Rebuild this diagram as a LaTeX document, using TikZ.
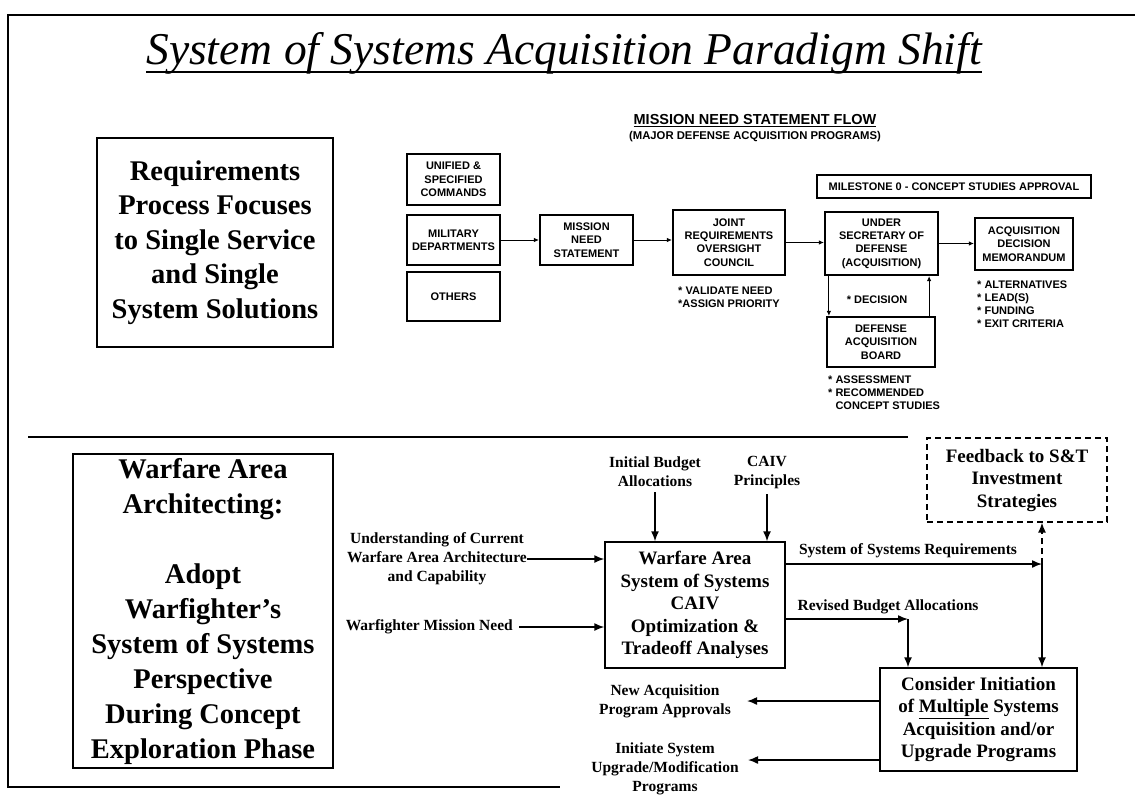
\documentclass[tikz,border=0pt]{standalone}
\usepackage{fontspec}
\setmainfont{Liberation Serif}
\newfontfamily\hv{Liberation Sans}
\usetikzlibrary{arrows.meta,calc}
\begin{document}
\begin{tikzpicture}[x=1pt,y=-1pt,
  bigbox/.style={draw,line width=1.6pt,align=center,inner sep=0pt,font=\bfseries\fontsize{28.5}{34.5}\selectfont},
  medbox/.style={draw,line width=1.4pt,align=center,inner sep=0pt,font=\bfseries\fontsize{19}{22.5}\selectfont},
  lbl/.style={align=center,inner sep=0pt,font=\bfseries\fontsize{15.5}{19}\selectfont},
  flowbox/.style={draw,line width=2.2pt,align=center,inner sep=0pt,font=\hv\bfseries\fontsize{11}{13.3}\selectfont},
  flowtxt/.style={align=left,inner sep=0pt,font=\hv\bfseries\fontsize{11}{13}\selectfont},
  farrow/.style={-{Latex[length=5pt,width=4.5pt]},line width=0.9pt},
  barrow/.style={-{Latex[length=10pt,width=8pt]},line width=1.5pt},
  frame/.style={line width=1.2pt}]
\useasboundingbox (0,0) rectangle (1135,804);
% frame (top, left, partial bottom as in the scan)
\coordinate (ftr) at (1135,15);
\coordinate (ftl) at (8,15);
\coordinate (fbl) at (8,787);
\coordinate (fbr) at (560,787);
\draw[frame] (ftr) -- (ftl) -- (fbl) -- (fbr);
% title
\node[inner sep=0pt,anchor=base,font=\itshape\fontsize{45.5}{50}\selectfont] (title) at (564,64) {System of Systems Acquisition Paradigm Shift};
\draw[line width=1.2pt] ([yshift=-8pt]title.base west) -- ([yshift=-8pt]title.base east);
% separator
\draw[line width=2.6pt] (28,437) -- (908,437);
% left boxes
\node[bigbox,minimum width=236pt,minimum height=209pt] (req) at (215,242.5) {Requirements\\Process Focuses\\to Single Service\\and Single\\System Solutions};
\node[bigbox,minimum width=260pt,minimum height=314pt,font=\bfseries\fontsize{28.5}{35}\selectfont] (waa) at (203,611) {Warfare Area\\Architecting:\\[35pt]Adopt\\Warfighter's\\System of Systems\\Perspective\\During Concept\\Exploration Phase};
% upper flow
\node[inner sep=0pt,font=\hv\bfseries\fontsize{14.5}{16}\selectfont] (mnsf) at (755,121) {\underline{MISSION NEED STATEMENT FLOW}};
\node[inner sep=0pt,font=\hv\bfseries\fontsize{11.3}{13}\selectfont] (mdap) at (755,137) {(MAJOR DEFENSE ACQUISITION PROGRAMS)};
\node[flowbox,minimum width=93pt,minimum height=51pt] (uni) at (453.5,179.5) {UNIFIED \&\\SPECIFIED\\COMMANDS};
\node[flowbox,minimum width=93pt,minimum height=50pt] (mil) at (453.5,240) {MILITARY\\DEPARTMENTS};
\node[flowbox,minimum width=93pt,minimum height=49pt] (oth) at (453.5,296.5) {OTHERS};
\node[flowbox,minimum width=93pt,minimum height=50pt] (mns) at (586.5,240) {MISSION\\NEED\\STATEMENT};
\node[flowbox,minimum width=112pt,minimum height=65pt] (jroc) at (729,242.5) {JOINT\\REQUIREMENTS\\OVERSIGHT\\COUNCIL};
\node[flowbox,minimum width=113pt,minimum height=63pt] (usd) at (881.5,243.5) {UNDER\\SECRETARY OF\\DEFENSE\\(ACQUISITION)};
\node[flowbox,minimum width=98pt,minimum height=52pt] (adm) at (1024,244) {ACQUISITION\\DECISION\\MEMORANDUM};
\node[flowbox,minimum width=274pt,minimum height=23pt] (ms0) at (954,186.5) {MILESTONE 0 - CONCEPT STUDIES APPROVAL};
\node[flowbox,minimum width=108pt,minimum height=50pt] (dab) at (881,342) {DEFENSE\\ACQUISITION\\BOARD};
\draw[farrow] (mil.east) -- (mil.east -| mns.west);
\draw[farrow] (mns.east) -- (mns.east -| jroc.west);
\draw[farrow] (jroc.east) -- (jroc.east -| usd.west);
\draw[farrow] (usd.east) -- (usd.east -| adm.west);
\draw[farrow] ([xshift=5pt]usd.south west) -- ([xshift=5pt]usd.south west |- dab.north);
\draw[farrow] ([xshift=-7pt]dab.north east) -- ([xshift=-7pt]dab.north east |- usd.south);
\node[flowtxt,anchor=north west] (jnote) at (678,287) {* VALIDATE NEED\\*ASSIGN PRIORITY};
\node[flowtxt] (dec) at (877,300) {* DECISION};
\node[flowtxt,anchor=north west] (dnote) at (828,376) {* ASSESSMENT\\* RECOMMENDED\\\hphantom{* }CONCEPT STUDIES};
\node[flowtxt,anchor=north west] (anote) at (977,281) {* ALTERNATIVES\\* LEAD(S)\\* FUNDING\\* EXIT CRITERIA};
% lower flow
\node[lbl] (ib) at (655,472) {Initial Budget\\Allocations};
\node[lbl] (caiv) at (767,473) {CAIV\\Principles};
\node[medbox,minimum width=180pt,minimum height=126pt] (wa) at (695,605) {Warfare Area\\System of Systems\\CAIV\\Optimization \&\\Tradeoff Analyses};
\draw[barrow,shorten <=5pt] (ib.south) -- (ib.south |- wa.north);
\draw[barrow,shorten <=5pt] (caiv.south) -- (caiv.south |- wa.north);
\node[lbl] (und) at (437,559) {Understanding of Current\\Warfare Area Architecture\\and Capability};
\draw[barrow] (und.east) -- (und.east -| wa.west);
\node[lbl,anchor=east] (wmn) at (513,627) {Warfighter Mission Need};
\draw[barrow,shorten <=6pt] (wmn.east) -- (wmn.east -| wa.west);
\node[medbox,dashed,line width=1.2pt,dash pattern=on 6pt off 4pt,minimum width=180pt,minimum height=84pt] (fb) at (1017,480) {Feedback to S\&T\\Investment\\Strategies};
\node[medbox,minimum width=197pt,minimum height=103pt] (con) at (978.5,719.5) {Consider Initiation\\of \underline{Multiple} Systems\\Acquisition and/or\\Upgrade Programs};
\coordinate (J) at (1042,564);
\coordinate (R) at (908,619);
\node[lbl] (sosr) at (908,551) {System of Systems Requirements};
\node[lbl] (rba) at (888,607) {Revised Budget Allocations};
\draw[barrow] (wa.east |- J) -- (J);
\draw[barrow] (wa.east |- R) -- (R);
\draw[barrow] (J) -- (J |- con.north);
\draw[barrow] (R) -- (R |- con.north);
\draw[barrow,dash pattern=on 6pt off 4pt] (J) -- (J |- fb.south);
\node[lbl] (nap) at (665,701) {New Acquisition\\Program Approvals};
\node[lbl] (isu) at (665,769) {Initiate System\\Upgrade/Modification\\Programs};
\coordinate (a2) at (748,760);
\draw[barrow,shorten >=16pt] (con.west |- nap) -- (nap.east);
\draw[barrow] (con.west |- a2) -- (a2);
\end{tikzpicture}
\end{document}
